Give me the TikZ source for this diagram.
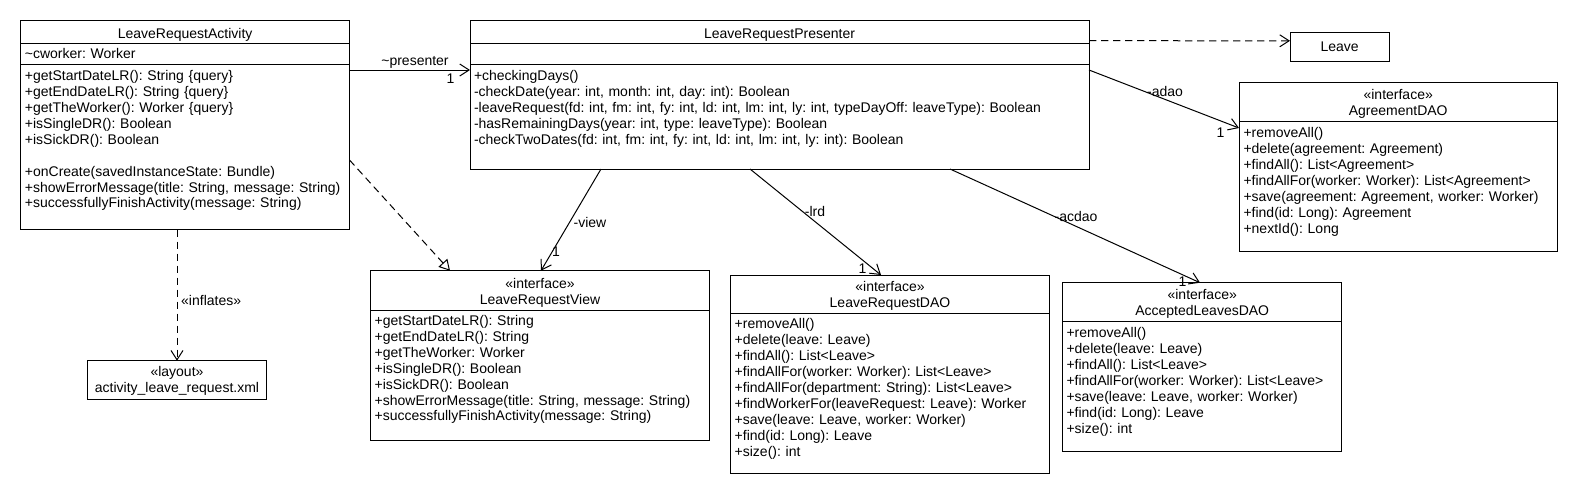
\documentclass[tikz,border=0pt]{standalone}
\usepackage{fontspec}
\setmainfont{Liberation Sans}
\usetikzlibrary{arrows.meta,calc,fit}
\frenchspacing
\begin{document}
\begin{tikzpicture}[x=0.75pt,y=-0.75pt,
  every node/.style={inner sep=0pt,outer sep=0pt},
  umlfont/.style={font=\fontsize{10.5}{11.93}\selectfont\frenchspacing},
  cls/.style={draw,line width=0.75pt,inner sep=0pt,outer sep=0pt},
  sepline/.style={line width=0.75pt},
  mtext/.style={umlfont,anchor=base west,text width=450pt,align=left},
  ttext/.style={umlfont,anchor=base,text width=240pt,align=center},
  lbl/.style={umlfont,anchor=base},
  assoc/.style={line width=0.75pt,-{Straight Barb[length=7pt,width=9pt]}},
  depend/.style={assoc,dash pattern=on 5.5pt off 3.5pt},
  realize/.style={line width=0.75pt,dash pattern=on 5.5pt off 3.5pt,-{Triangle[open,length=8pt,width=9pt]}}
]
\useasboundingbox[fill=white] (0,0) rectangle (1578,494);

% ---------- class boxes ----------
\node[cls,fit={(20.7,20.7) (349.5,229.5)}] (act) {};
\node[cls,fit={(470,20.7) (1089,169)}] (pres) {};
\node[cls,fit={(1290,32.3) (1389.3,61)}] (leave) {};
\node[cls,fit={(1239,82.3) (1557.3,251)}] (agree) {};
\node[cls,fit={(370.7,270.7) (709.3,440)}] (view) {};
\node[cls,fit={(730.7,275) (1049.3,473)}] (lrdao) {};
\node[cls,fit={(1062.7,282.7) (1341.7,451)}] (acc) {};
\node[cls,fit={(87.3,360.7) (266.7,399)}] (layout) {};

% ---------- compartment separators ----------
\draw[sepline] ($(act.north west)+(0,22.6)$) -- ($(act.north east)+(0,22.6)$);
\draw[sepline] ($(act.north west)+(0,44)$) -- ($(act.north east)+(0,44)$);
\draw[sepline] ($(pres.north west)+(0,22.6)$) -- ($(pres.north east)+(0,22.6)$);
\draw[sepline] ($(pres.north west)+(0,44)$) -- ($(pres.north east)+(0,44)$);
\draw[sepline] ($(agree.north west)+(0,39)$) -- ($(agree.north east)+(0,39)$);
\draw[sepline] ($(view.north west)+(0,39.3)$) -- ($(view.north east)+(0,39.3)$);
\draw[sepline] ($(lrdao.north west)+(0,38.3)$) -- ($(lrdao.north east)+(0,38.3)$);
\draw[sepline] ($(acc.north west)+(0,39)$) -- ($(acc.north east)+(0,39)$);

% ---------- texts ----------
\node[ttext] (actT) at (185.1,38.3) {LeaveRequestActivity};
\node[mtext] (actA) at (24.9,58.3) {\textasciitilde cworker: Worker};
\node[mtext] (actM) at (24.9,80.7) {+getStartDateLR(): String \{query\}\\
+getEndDateLR(): String \{query\}\\
+getTheWorker(): Worker \{query\}\\
+isSingleDR(): Boolean\\
+isSickDR(): Boolean\\
\mbox{}\\
+onCreate(savedInstanceState: Bundle)\\
+showErrorMessage(title: String, message: String)\\
+successfullyFinishActivity(message: String)};

\node[ttext] (presT) at (779.5,38.3) {LeaveRequestPresenter};
\node[mtext] (presM) at (474,80.7) {+checkingDays()\\
-checkDate(year: int, month: int, day: int): Boolean\\
-leaveRequest(fd: int, fm: int, fy: int, ld: int, lm: int, ly: int, typeDayOff: leaveType): Boolean\\
-hasRemainingDays(year: int, type: leaveType): Boolean\\
-checkTwoDates(fd: int, fm: int, fy: int, ld: int, lm: int, ly: int): Boolean};

\node[ttext] (leaveT) at (1339.7,51) {Leave};

\node[ttext] (agreeT) at (1398.2,99.5) {«interface»\\AgreementDAO};
\node[mtext] (agreeM) at (1243.5,137.8) {+removeAll()\\
+delete(agreement: Agreement)\\
+findAll(): List<Agreement>\\
+findAllFor(worker: Worker): List<Agreement>\\
+save(agreement: Agreement, worker: Worker)\\
+find(id: Long): Agreement\\
+nextId(): Long};

\node[ttext] (viewT) at (540,288.5) {«interface»\\LeaveRequestView};
\node[mtext] (viewM) at (374.7,325.5) {+getStartDateLR(): String\\
+getEndDateLR(): String\\
+getTheWorker: Worker\\
+isSingleDR(): Boolean\\
+isSickDR(): Boolean\\
+showErrorMessage(title: String, message: String)\\
+successfullyFinishActivity(message: String)};

\node[ttext] (lrdaoT) at (890,291.8) {«interface»\\LeaveRequestDAO};
\node[mtext] (lrdaoM) at (734.7,328.8) {+removeAll()\\
+delete(leave: Leave)\\
+findAll(): List<Leave>\\
+findAllFor(worker: Worker): List<Leave>\\
+findAllFor(department: String): List<Leave>\\
+findWorkerFor(leaveRequest: Leave): Worker\\
+save(leave: Leave, worker: Worker)\\
+find(id: Long): Leave\\
+size(): int};

\node[ttext] (accT) at (1202.2,299.5) {«interface»\\AcceptedLeavesDAO};
\node[mtext] (accM) at (1066.5,337.8) {+removeAll()\\
+delete(leave: Leave)\\
+findAll(): List<Leave>\\
+findAllFor(worker: Worker): List<Leave>\\
+save(leave: Leave, worker: Worker)\\
+find(id: Long): Leave\\
+size(): int};

\node[ttext] (layoutT) at (177,376.2) {«layout»\\activity\_leave\_request.xml};

% ---------- connectors ----------
\draw[assoc] ($(act.north east)+(0,49.3)$) -- ($(pres.north west)+(0,49.3)$);
\node[lbl] (l1) at (415,65.5) {\textasciitilde presenter};
\node[lbl] (m1) at (450.5,83.3) {1};

\draw[realize] ($(act.north east)+(0,139.3)$) -- ($(view.north west)+(79.3,0)$);

\draw[depend] (act.south -| layout.north) -- (layout.north);
\node[lbl,anchor=base west] (l2) at (181.2,305) {«inflates»};

\draw[assoc] ($(pres.south west)+(131,0)$) -- ($(view.north west)+(170.3,0)$);
\node[lbl] (l3) at (590,227.7) {-view};
\node[lbl] (m3) at (556,256) {1};

\draw[assoc] ($(pres.south west)+(280,0)$) -- ($(lrdao.north west)+(150.3,0)$);
\node[lbl] (l4) at (815,216) {-lrd};
\node[lbl] (m4) at (862.5,273.3) {1};

\draw[assoc] ($(pres.south west)+(480,0)$) -- ($(acc.north west)+(137.3,0)$);
\node[lbl] (l5) at (1076,221) {-acdao};
\node[lbl] (m5) at (1182.5,286.5) {1};

\draw[assoc] ($(pres.north east)+(0,49.3)$) -- ($(agree.north west)+(0,45.7)$);
\node[lbl] (l6) at (1165,96.7) {-adao};
\node[lbl] (m6) at (1220.5,137.3) {1};

\draw[depend] ($(pres.north east)+(0,20)$) -- ($(leave.north west)+(0,8.5)$);
\end{tikzpicture}
\end{document}
